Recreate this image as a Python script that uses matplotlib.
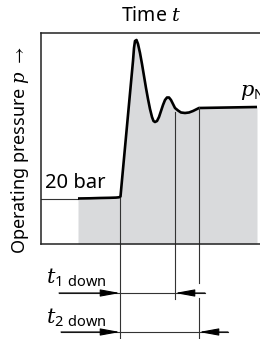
import matplotlib
matplotlib.use("Agg")
from matplotlib import pyplot as plt

plt.rcParams['font.family'] = ['Noto Sans', 'DejaVu Sans']
plt.rcParams['mathtext.fontset'] = 'custom'
plt.rcParams['mathtext.rm'] = 'Noto Sans'
plt.rcParams['mathtext.sf'] = 'Noto Sans'
plt.rcParams['mathtext.it'] = 'DejaVu Serif:italic'
plt.rcParams['mathtext.fallback'] = 'stixsans'

# schematic pressure trace: time t and pressure p (arbitrary units, p=0 at bottom of frame)
time = [37, 49, 59, 69, 75, 78, 79.5, 81, 84, 87, 90, 92, 93, 94, 95.5, 97, 99, 101,
        103, 105, 107, 109, 111, 112.5, 114, 116, 118, 120, 122, 124, 126, 128, 130,
        132, 134, 137, 140, 144, 148, 152, 155, 158, 216]
pressure = [45.5, 45.7, 46, 46.2, 46.4, 46.7, 47.5, 64, 96.5, 129, 161.5, 183, 196, 203,
            204, 200, 191, 180, 168, 156, 145, 135, 127, 123, 122, 123, 127, 133, 139,
            144, 146.5, 146.5, 144, 140, 136, 133.5, 131.5, 131, 131.5, 133, 134.5, 136, 137]

ref_time = [0, 37]
ref_pressure = [45.5, 45.5]

# marker instants
t_start = 79
t_1 = 134
t_2 = 158

fig = plt.figure(figsize=(2.6, 3.39), dpi=100)
ax = fig.add_axes([41 / 260, 95 / 339, 219 / 260, 211 / 339])
ax.set_xlim(0, 219)
ax.set_ylim(0, 211)
ax.set_xticks([])
ax.set_yticks([])
for side in ['left', 'top', 'bottom']:
    ax.spines[side].set_color('#222222')
    ax.spines[side].set_linewidth(1.1)
ax.spines['right'].set_visible(False)

ax.fill_between(time, pressure, 0, color='#d9dadc', linewidth=0)
ax.plot(ref_time, ref_pressure, color='#333333', lw=0.8)
ax.plot(time, pressure, color='black', lw=1.9, solid_joinstyle='round', solid_capstyle='butt')

# vertical marker lines, running below the frame
thin = dict(color='#333333', lw=0.8, clip_on=False)
ax.plot([t_start, t_start], [46.5, -96], **thin)
ax.plot([t_1, t_1], [132, -55], **thin)
ax.plot([t_2, t_2], [137, -39], **thin)
ax.plot([t_2, t_2], [-54, -96], **thin)

# dimension lines
y1, y2 = -49, -88
ax.plot([18, 164], [y1, y1], **thin)
ax.plot([20, 187], [y2, y2], **thin)
head = dict(arrowstyle='-|>,head_length=1.2,head_width=0.22', color='black',
            lw=0.8, mutation_scale=10, shrinkA=0, shrinkB=0)
ax.annotate('', xy=(t_start, y1), xytext=(18, y1), arrowprops=head, annotation_clip=False)
ax.annotate('', xy=(t_1, y1), xytext=(164, y1), arrowprops=head, annotation_clip=False)
ax.annotate('', xy=(t_start, y2), xytext=(20, y2), arrowprops=head, annotation_clip=False)
ax.annotate('', xy=(t_2, y2), xytext=(187, y2), arrowprops=head, annotation_clip=False)

ax.text(4, 61, '20 bar', fontsize=14.5, ha='left', va='center')
ax.text(199, 152, r'$p_{\mathrm{N}}$', fontsize=15, ha='left', va='center', clip_on=False)
ax.text(5, -34, r'$t_{\mathrm{1\ down}}$', fontsize=15, ha='left', va='center', clip_on=False)
ax.text(5, -74, r'$t_{\mathrm{2\ down}}$', fontsize=15, ha='left', va='center', clip_on=False)

fig.text(151 / 260, 1 - 16 / 339, r'Time $t$', fontsize=14, ha='center', va='center')
fig.text(20 / 260, 1 - 150 / 339, r'Operating pressure $p$ $\rightarrow$', fontsize=13,
         ha='center', va='center', rotation=90)

fig.savefig('out.png', dpi=100)
